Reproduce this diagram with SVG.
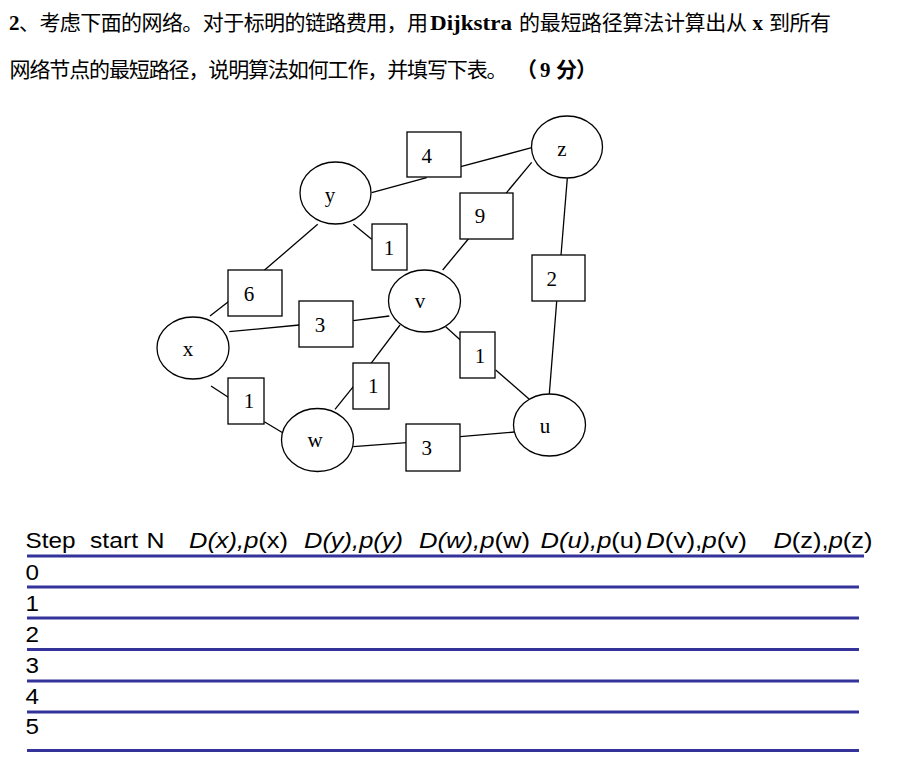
<svg xmlns="http://www.w3.org/2000/svg" width="914" height="772" viewBox="0 0 914 772">
<style>
.t{font-family:"Liberation Serif","Noto Sans CJK SC",serif;font-size:21px;fill:#000}
.b{font-weight:bold}
.nd{fill:#fff;stroke:#000;stroke-width:1.3}
.bx{fill:#fff;stroke:#000;stroke-width:1.3}
.lb{font-family:"Liberation Serif",serif;font-size:21px;fill:#000;text-anchor:middle}
.cn line{stroke:#000;stroke-width:1.3}
.tb{font-family:"Liberation Sans",Arial,sans-serif;font-size:22px;fill:#000}
.i{font-style:italic}
.rl line{stroke:#333399;stroke-width:3}
</style>
<rect width="914" height="772" fill="#fff"/>
<g id="title">
<text class="t b" x="9" y="30">2</text>
<text class="t" x="19" y="30" textLength="409" lengthAdjust="spacing">、考虑下面的网络。对于标明的链路费用，用</text>
<text class="t b" x="430" y="30" textLength="82" lengthAdjust="spacingAndGlyphs">Dijkstra</text>
<text class="t" x="519" y="30" textLength="228" lengthAdjust="spacing">的最短路径算法计算出从</text>
<text class="t b" x="752.5" y="30">x</text>
<text class="t" x="769" y="30" textLength="62" lengthAdjust="spacing">到所有</text>
<text class="t" x="9.5" y="76.5" textLength="498" lengthAdjust="spacing">网络节点的最短路径，说明算法如何工作，并填写下表。</text>
<text class="t b" x="516" y="76.5">（</text>
<text class="t b" x="540" y="76.5">9</text>
<text class="t b" x="556" y="76.5">分</text>
<text class="t b" x="576" y="76.5">）</text>
</g>
<g id="connectors" class="cn">
<line x1="371.7" y1="192.7" x2="426.7" y2="177.7"/>
<line x1="460.7" y1="166.7" x2="531.7" y2="147.7"/>
<line x1="317.7" y1="224.3" x2="264.3" y2="270.3"/>
<line x1="228.3" y1="301.7" x2="210" y2="316"/>
<line x1="353.3" y1="224.3" x2="371.7" y2="239.3"/>
<line x1="531.7" y1="162.3" x2="506" y2="193.3"/>
<line x1="468.3" y1="239" x2="442.7" y2="270"/>
<line x1="567.3" y1="178.3" x2="561" y2="255.3"/>
<line x1="556.7" y1="301.3" x2="549.3" y2="394"/>
<line x1="229.3" y1="331.7" x2="299.3" y2="325"/>
<line x1="353.3" y1="320.7" x2="389.3" y2="316"/>
<line x1="445.7" y1="326.7" x2="460.3" y2="340"/>
<line x1="495.7" y1="370" x2="529" y2="399"/>
<line x1="400" y1="325" x2="371" y2="363.3"/>
<line x1="353.3" y1="386.7" x2="335" y2="409.3"/>
<line x1="211" y1="386" x2="228.3" y2="397.3"/>
<line x1="264.3" y1="421.7" x2="282.7" y2="432.7"/>
<line x1="353.3" y1="446.7" x2="406.7" y2="442.7"/>
<line x1="460.3" y1="436.7" x2="514.3" y2="432"/>
</g>
<g id="node-y"><ellipse class="nd" cx="335.5" cy="193" rx="35.5" ry="31"/><text class="lb" x="330" y="202">y</text></g>
<g id="node-z"><ellipse class="nd" cx="567" cy="147" rx="35.5" ry="31"/><text class="lb" x="562" y="155.5">z</text></g>
<g id="node-v"><ellipse class="nd" cx="424.5" cy="301" rx="36" ry="31"/><text class="lb" x="420" y="308">v</text></g>
<g id="node-x"><ellipse class="nd" cx="193" cy="348" rx="36" ry="31"/><text class="lb" x="188" y="355.5">x</text></g>
<g id="node-w"><ellipse class="nd" cx="317.5" cy="440" rx="36" ry="31.5"/><text class="lb" x="315" y="447">w</text></g>
<g id="node-u"><ellipse class="nd" cx="549.5" cy="425" rx="36" ry="31"/><text class="lb" x="545" y="432.5">u</text></g>
<g id="cost-yz"><rect class="bx" x="407" y="132" width="54" height="45"/><text class="lb" x="426.7" y="162.7">4</text></g>
<g id="cost-yv"><rect class="bx" x="372" y="224" width="35" height="46"/><text class="lb" x="389" y="255">1</text></g>
<g id="cost-xy"><rect class="bx" x="228" y="270" width="54" height="46"/><text class="lb" x="249" y="300.7">6</text></g>
<g id="cost-vz"><rect class="bx" x="460" y="193" width="53" height="46"/><text class="lb" x="480" y="223">9</text></g>
<g id="cost-zu"><rect class="bx" x="532" y="255" width="53" height="46"/><text class="lb" x="551.7" y="285.7">2</text></g>
<g id="cost-xv"><rect class="bx" x="299" y="301" width="54" height="46"/><text class="lb" x="320" y="331.7">3</text></g>
<g id="cost-vu"><rect class="bx" x="460" y="332" width="35" height="46"/><text class="lb" x="480" y="362.7">1</text></g>
<g id="cost-wv"><rect class="bx" x="353" y="363" width="36" height="46"/><text class="lb" x="373.3" y="393.3">1</text></g>
<g id="cost-xw"><rect class="bx" x="228" y="378" width="36" height="46"/><text class="lb" x="249" y="408.3">1</text></g>
<g id="cost-wu"><rect class="bx" x="406" y="424" width="54" height="47"/><text class="lb" x="426.7" y="455">3</text></g>
<g id="table">
<g class="rl">
<line x1="27" y1="556" x2="864" y2="556"/>
<line x1="27" y1="587" x2="859" y2="587"/>
<line x1="27" y1="618" x2="859" y2="618"/>
<line x1="27" y1="649.5" x2="859" y2="649.5"/>
<line x1="27" y1="681" x2="859" y2="681"/>
<line x1="27" y1="712" x2="859" y2="712"/>
<line x1="27" y1="750.5" x2="859" y2="750.5"/>
</g>
<text class="tb" x="25.5" y="548" textLength="50" lengthAdjust="spacingAndGlyphs">Step</text>
<text class="tb" x="90" y="548" textLength="48" lengthAdjust="spacingAndGlyphs">start</text>
<text class="tb" x="146.5" y="548" textLength="18" lengthAdjust="spacingAndGlyphs">N</text>
<text class="tb" x="189" y="548" textLength="99" lengthAdjust="spacingAndGlyphs"><tspan class="i">D(x),p</tspan>(x)</text>
<text class="tb" x="304" y="548" textLength="99" lengthAdjust="spacingAndGlyphs"><tspan class="i">D(y),p(y)</tspan></text>
<text class="tb" x="419" y="548" textLength="111" lengthAdjust="spacingAndGlyphs"><tspan class="i">D(w),p</tspan>(w)</text>
<text class="tb" x="540.5" y="548" textLength="102" lengthAdjust="spacingAndGlyphs"><tspan class="i">D(u),p</tspan>(u)</text>
<text class="tb" x="646" y="548" textLength="101" lengthAdjust="spacingAndGlyphs"><tspan class="i">D</tspan>(v),<tspan class="i">p</tspan>(v)</text>
<text class="tb" x="773.5" y="548" textLength="99" lengthAdjust="spacingAndGlyphs"><tspan class="i">D</tspan>(z),<tspan class="i">p</tspan>(z)</text>
<text class="tb" x="25.5" y="580" textLength="13.5" lengthAdjust="spacingAndGlyphs">0</text>
<text class="tb" x="25.5" y="611" textLength="13.5" lengthAdjust="spacingAndGlyphs">1</text>
<text class="tb" x="25.5" y="642" textLength="13.5" lengthAdjust="spacingAndGlyphs">2</text>
<text class="tb" x="25.5" y="673" textLength="13.5" lengthAdjust="spacingAndGlyphs">3</text>
<text class="tb" x="25.5" y="703.5" textLength="13.5" lengthAdjust="spacingAndGlyphs">4</text>
<text class="tb" x="25.5" y="734" textLength="13.5" lengthAdjust="spacingAndGlyphs">5</text>
</g>
</svg>
